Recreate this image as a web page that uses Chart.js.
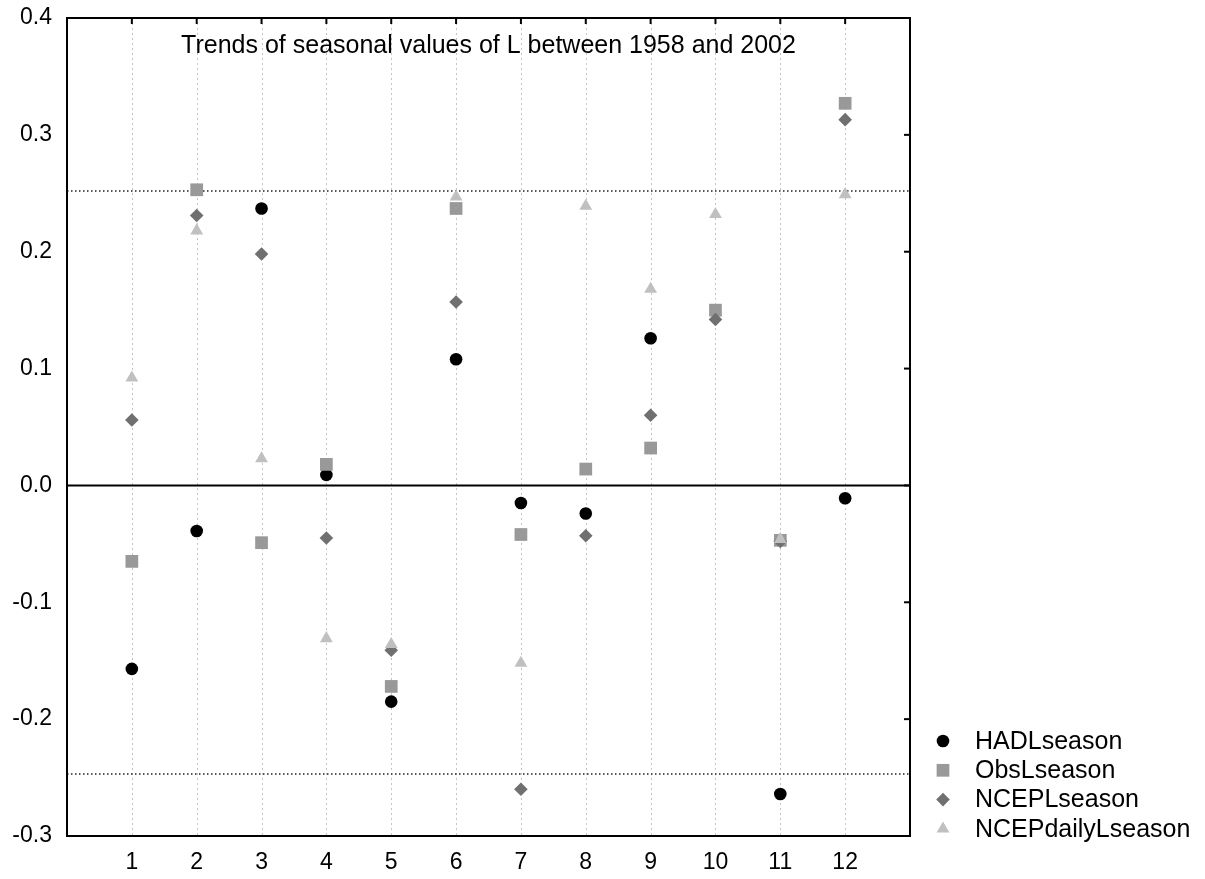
<!DOCTYPE html>
<html>
<head>
<meta charset="utf-8">
<script src="https://cdn.jsdelivr.net/npm/chart.js@4/dist/chart.umd.min.js"></script>
<style>
  html, body { margin: 0; padding: 0; background: #fff; }
  #wrap { width: 1205px; height: 879px; }
</style>
</head>
<body>
<div id="wrap"><canvas id="c" width="1205" height="879"></canvas></div>
<script>
// ---- data ----
const months = [1, 2, 3, 4, 5, 6, 7, 8, 9, 10, 11, 12];
const hadlSeason      = [-0.157, -0.039, 0.237, 0.009, -0.185, 0.108, -0.015, -0.024, 0.126, null, -0.264, -0.011];
const obsSeason       = [-0.065, 0.253, -0.049, 0.018, -0.172, 0.237, -0.042, 0.014, 0.032, 0.150, -0.047, 0.327];
const ncepSeason      = [0.056, 0.231, 0.198, -0.045, -0.141, 0.157, -0.260, -0.043, 0.060, 0.142, -0.048, 0.313];
const ncepDailySeason = [0.092, 0.218, 0.023, -0.131, -0.136, 0.247, -0.152, 0.239, 0.168, 0.232, -0.046, 0.249];
const seriesNames = ['HADLseason', 'ObsLseason', 'NCEPLseason', 'NCEPdailyLseason'];
const yTickValues = [-0.3, -0.2, -0.1, 0.0, 0.1, 0.2, 0.3, 0.4];
const significance = [0.252, -0.247];
const titleText = 'Trends of seasonal values of L between 1958 and 2002';

const FONT = '"Liberation Sans", Arial, sans-serif';

function pts(arr) {
  const out = [];
  arr.forEach((v, i) => { if (v !== null) out.push({ x: months[i], y: v }); });
  return out;
}

const styles = [
  { color: '#000000', pointStyle: 'circle',   radius: 6.3 },
  { color: '#999999', pointStyle: 'rect',     radius: 9 },
  { color: '#707070', pointStyle: 'rectRot',  radius: 6.8 },
  { color: '#c0c0c0', pointStyle: 'triangle', radius: 7.4 }
];
const seriesData = [hadlSeason, obsSeason, ncepSeason, ncepDailySeason];

const datasets = seriesData.map((arr, i) => ({
  label: seriesNames[i],
  data: pts(arr),
  pointStyle: styles[i].pointStyle,
  pointRadius: styles[i].radius,
  pointHoverRadius: styles[i].radius,
  backgroundColor: styles[i].color,
  borderColor: styles[i].color,
  pointBorderWidth: 0,
  showLine: false,
  order: 4 - i
}));

function drawMarker(ctx, style, x, y) {
  ctx.save();
  ctx.fillStyle = style.color;
  ctx.beginPath();
  const r = style.radius;
  if (style.pointStyle === 'circle') {
    ctx.arc(x, y, r, 0, Math.PI * 2);
  } else if (style.pointStyle === 'rect') {
    const s = r * Math.SQRT1_2;
    ctx.rect(x - s, y - s, 2 * s, 2 * s);
  } else if (style.pointStyle === 'rectRot') {
    ctx.moveTo(x, y - r); ctx.lineTo(x + r, y); ctx.lineTo(x, y + r); ctx.lineTo(x - r, y); ctx.closePath();
  } else {
    const a = Math.PI * 2 / 3;
    ctx.moveTo(x, y - r);
    ctx.lineTo(x + Math.sin(a) * r, y - Math.cos(a) * r);
    ctx.lineTo(x + Math.sin(2 * a) * r, y - Math.cos(2 * a) * r);
    ctx.closePath();
  }
  ctx.fill();
  ctx.restore();
}

const decor = {
  id: 'decor',
  beforeDatasetsDraw(chart) {
    const { ctx, chartArea: a, scales: { x, y } } = chart;
    ctx.save();
    // vertical dotted grid
    ctx.strokeStyle = '#c4c4c4';
    ctx.lineWidth = 1;
    ctx.setLineDash([2, 3]);
    months.forEach(m => {
      const px = Math.round(x.getPixelForValue(m)) + 0.5;
      ctx.beginPath(); ctx.moveTo(px, a.top); ctx.lineTo(px, a.bottom); ctx.stroke();
    });
    // significance lines
    ctx.strokeStyle = '#222';
    ctx.lineWidth = 1.5;
    ctx.setLineDash([1.5, 2.5]);
    significance.forEach(v => {
      const py = y.getPixelForValue(v);
      ctx.beginPath(); ctx.moveTo(a.left, py); ctx.lineTo(a.right, py); ctx.stroke();
    });
    // zero line
    ctx.setLineDash([]);
    ctx.strokeStyle = '#000';
    ctx.lineWidth = 2;
    const y0 = y.getPixelForValue(0);
    ctx.beginPath(); ctx.moveTo(a.left, y0); ctx.lineTo(a.right, y0); ctx.stroke();
    // title
    ctx.fillStyle = '#000';
    ctx.font = '25px ' + FONT;
    ctx.textAlign = 'center';
    ctx.textBaseline = 'alphabetic';
    ctx.fillText(titleText, (a.left + a.right) / 2, a.top + 35);
    ctx.restore();
  },
  afterDatasetsDraw(chart) {
    const { ctx, chartArea: a, scales: { x, y } } = chart;
    ctx.save();
    ctx.strokeStyle = '#000';
    ctx.lineWidth = 2;
    ctx.setLineDash([]);
    ctx.strokeRect(a.left, a.top, a.right - a.left, a.bottom - a.top);
    // inward ticks on top and right
    ctx.lineWidth = 2;
    months.forEach(m => {
      const px = x.getPixelForValue(m);
      ctx.beginPath(); ctx.moveTo(px, a.top); ctx.lineTo(px, a.top + 6); ctx.stroke();
    });
    yTickValues.forEach(v => {
      const py = y.getPixelForValue(v);
      ctx.beginPath(); ctx.moveTo(a.right, py); ctx.lineTo(a.right - 6, py); ctx.stroke();
    });
    // legend
    ctx.font = '25px ' + FONT;
    ctx.fillStyle = '#000';
    ctx.textAlign = 'left';
    ctx.textBaseline = 'middle';
    seriesNames.forEach((name, i) => {
      const ly = 741 + i * 29.3;
      drawMarker(ctx, styles[i], 943, ly);
      ctx.fillStyle = '#000';
      ctx.fillText(name, 975, ly + 1);
    });
    ctx.restore();
  }
};

new Chart(document.getElementById('c'), {
  type: 'scatter',
  data: { datasets },
  plugins: [decor],
  options: {
    responsive: false,
    animation: false,
    devicePixelRatio: 1,
    layout: { padding: { left: 0, right: 295, top: 18, bottom: 0 } },
    plugins: { legend: { display: false }, tooltip: { enabled: false }, title: { display: false } },
    scales: {
      x: {
        type: 'linear',
        min: 0, max: 13,
        afterBuildTicks: s => { s.ticks = months.map(v => ({ value: v })); },
        afterFit: s => { s.height = 43; s.paddingLeft = 0; s.paddingRight = 0; },
        grid: { display: false, drawTicks: false },
        border: { display: false },
        ticks: {
          autoSkip: false, maxRotation: 0, padding: 13,
          color: '#000', font: { family: FONT, size: 23 },
          callback: v => String(v)
        }
      },
      y: {
        type: 'linear',
        min: -0.3, max: 0.4,
        afterBuildTicks: s => { s.ticks = yTickValues.map(v => ({ value: v })); },
        afterFit: s => { s.width = 67; s.paddingTop = 0; s.paddingBottom = 0; },
        grid: { display: false, drawTicks: false },
        border: { display: false },
        ticks: {
          padding: 15,
          color: '#000', font: { family: FONT, size: 23 },
          callback: v => (Math.abs(v) < 1e-9 ? 0 : v).toFixed(1)
        }
      }
    }
  }
});
</script>
</body>
</html>
